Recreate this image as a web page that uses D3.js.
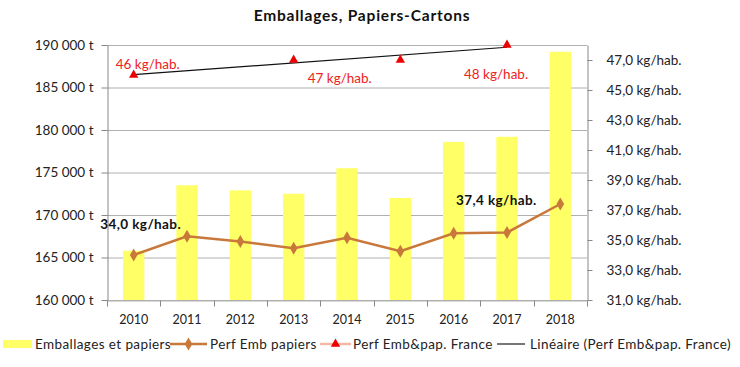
<!DOCTYPE html>
<html>
<head>
<meta charset="utf-8">
<script src="https://cdn.jsdelivr.net/npm/d3@7"></script>
<style>
  body { margin: 0; background: #fff; }
  text { font-family: Lato, "Open Sans", sans-serif; fill: #222; }
</style>
</head>
<body>
<div id="chart"></div>
<script>

var years = ["2010", "2011", "2012", "2013", "2014", "2015", "2016", "2017", "2018"];
var tonnages = [165800, 173500, 172900, 172500, 175500, 172000, 178600, 179200, 189200];
var perfEmb = [34.0, 35.25, 34.9, 34.45, 35.15, 34.25, 35.45, 35.5, 37.4];
var franceYears = ["2010", "2013", "2015", "2017"];
var perfFrance = [46, 47, 47, 48];
var leftTicks = [160000, 165000, 170000, 175000, 180000, 185000, 190000];
var rightTicks = [31, 33, 35, 37, 39, 41, 43, 45, 47];
var legendLabels = ["Emballages et papiers", "Perf Emb papiers", "Perf Emb&pap. France", "Linéaire (Perf Emb&pap. France)"];

var width = 740, height = 367;
var margin = {top: 45, left: 107, right: 153, bottom: 67};

var svg = d3.select("#chart").append("svg")
    .attr("width", width)
    .attr("height", height);

var x = d3.scaleBand()
    .domain(years)
    .range([margin.left, width - margin.right]);

var yLeft = d3.scaleLinear()
    .domain([160000, 190000])
    .range([height - margin.bottom, margin.top]);

var yRight = d3.scaleLinear()
    .domain([31, 48])
    .range([height - margin.bottom, margin.top]);

var fmtT = d3.formatLocale({decimal: ",", thousands: "\u00a0", grouping: [3], currency: ["", ""]}).format(",.0f");
var fmtKg = d3.formatLocale({decimal: ",", thousands: " ", grouping: [3], currency: ["", ""]}).format(".1f");

// gridlines
svg.append("g")
    .selectAll("line")
    .data(leftTicks)
    .enter()
    .append("line")
    .attr("x1", margin.left)
    .attr("x2", width - margin.right)
    .attr("y1", d => yLeft(d) + 0.5)
    .attr("y2", d => yLeft(d) + 0.5)
    .attr("stroke", "#b0b0b0")
    .attr("stroke-width", 1);

// bars
var barW = x.bandwidth() * 0.4;
svg.append("g")
    .selectAll("rect")
    .data(tonnages)
    .enter()
    .append("rect")
    .attr("x", (d, i) => x(years[i]) + (x.bandwidth() - barW) / 2)
    .attr("y", d => yLeft(d))
    .attr("width", barW)
    .attr("height", d => yLeft(160000) - yLeft(d))
    .attr("fill", "#ffff66");

// axes
var axisColor = "#888";
var gLeft = svg.append("g")
    .attr("transform", "translate(" + (margin.left + 0.5) + ",0)")
    .call(d3.axisLeft(yLeft).tickValues(leftTicks).tickSize(6).tickSizeOuter(0).tickPadding(8)
        .tickFormat(d => fmtT(d) + " t"));

var gRight = svg.append("g")
    .attr("transform", "translate(" + (width - margin.right + 0.5) + ",0)")
    .call(d3.axisRight(yRight).tickValues(rightTicks).tickSize(5).tickSizeOuter(0).tickPadding(14)
        .tickFormat(d => fmtKg(d) + " kg/hab."));

var gBottom = svg.append("g")
    .attr("transform", "translate(0," + (height - margin.bottom + 0.5) + ")")
    .call(d3.axisBottom(x).tickSize(0).tickPadding(15));

// category separators on the x axis
gBottom.append("g")
    .selectAll("line")
    .data(years)
    .enter()
    .append("line")
    .attr("x1", d => Math.round(x(d)) + 0.5)
    .attr("x2", d => Math.round(x(d)) + 0.5)
    .attr("y1", 0)
    .attr("y2", 6)
    .attr("stroke", axisColor);
gBottom.append("line")
    .attr("x1", width - margin.right + 0.5).attr("x2", width - margin.right + 0.5)
    .attr("y1", 0).attr("y2", 6).attr("stroke", axisColor);

[gLeft, gRight, gBottom].forEach(function (g) {
    g.select(".domain").attr("stroke", axisColor);
    g.selectAll(".tick line").attr("stroke", axisColor);
    g.selectAll("text").attr("font-size", 12.5).attr("fill", "#222")
        .style("font-family", "Lato, 'Open Sans', sans-serif");
});
gLeft.selectAll("text").attr("font-size", 13.5);
gRight.selectAll("text").attr("font-size", 13.5);
gBottom.select(".domain").attr("stroke", "#b0b0b0");

// Perf Emb papiers line
var cx = d => x(d) + x.bandwidth() / 2;
var brown = "#c8783a";

svg.append("path")
    .datum(perfEmb)
    .attr("fill", "none")
    .attr("stroke", brown)
    .attr("stroke-width", 2.5)
    .attr("d", d3.line().x((d, i) => cx(years[i])).y(d => yRight(d)));

svg.append("g")
    .selectAll("path")
    .data(perfEmb)
    .enter()
    .append("path")
    .attr("transform", (d, i) => "translate(" + cx(years[i]) + "," + yRight(d) + ")")
    .attr("d", d3.symbol(d3.symbolDiamond, 50))
    .attr("fill", brown);

// linear trend of the France series
var xi = franceYears.map(y => years.indexOf(y));
var mx = d3.mean(xi), my = d3.mean(perfFrance);
var slope = d3.sum(xi, (v, i) => (v - mx) * (perfFrance[i] - my)) / d3.sum(xi, v => (v - mx) * (v - mx));
var icpt = my - slope * mx;
var trend = [d3.min(xi), d3.max(xi)];

svg.append("line")
    .attr("x1", cx(years[trend[0]]))
    .attr("y1", yRight(icpt + slope * trend[0]))
    .attr("x2", cx(years[trend[1]]))
    .attr("y2", yRight(icpt + slope * trend[1]))
    .attr("stroke", "#111")
    .attr("stroke-width", 1.2);

svg.append("g")
    .selectAll("path")
    .data(perfFrance)
    .enter()
    .append("path")
    .attr("transform", (d, i) => "translate(" + cx(franceYears[i]) + "," + yRight(d) + ")")
    .attr("d", d3.symbol(d3.symbolTriangle, 38))
    .attr("fill", "#ee0000");

// France labels, moved by hand in the original (2015 has none)
var franceLabels = [
    {i: 0, dx: -18, dy: -6},
    {i: 1, dx: 14, dy: 23},
    {i: 3, dx: -43, dy: 34}
];
svg.append("g")
    .selectAll("text")
    .data(franceLabels)
    .enter()
    .append("text")
    .attr("x", d => cx(franceYears[d.i]) + d.dx)
    .attr("y", d => yRight(perfFrance[d.i]) + d.dy)
    .attr("font-size", 13.5)
    .style("fill", "#ee2222")
    .text(d => perfFrance[d.i] + " kg/hab.");

// black labels on first and last point
var blackLabels = [
    {i: 0, dx: 7, dy: -26},
    {i: perfEmb.length - 1, dx: -64, dy: 1}
];
svg.append("g")
    .selectAll("text")
    .data(blackLabels)
    .enter()
    .append("text")
    .attr("x", d => cx(years[d.i]) + d.dx)
    .attr("y", d => yRight(perfEmb[d.i]) + d.dy)
    .attr("text-anchor", "middle")
    .attr("font-size", 13.5)
    .attr("font-weight", "bold")
    .attr("letter-spacing", 0.4)
    .style("fill", "#111")
    .text(d => fmtKg(perfEmb[d.i]) + " kg/hab.");

// title
svg.append("text")
    .attr("x", width / 2 - 8)
    .attr("y", 21)
    .attr("text-anchor", "middle")
    .attr("font-size", 15.5)
    .attr("font-weight", "bold")
    .attr("letter-spacing", 0.8)
    .style("fill", "#111")
    .text("Emballages, Papiers-Cartons");

// legend
var legY = 344;
var leg = svg.append("g");
var legX = [3, 170, 320, 497];
var legText = [35, 210, 353, 530];

leg.append("rect").attr("x", legX[0]).attr("y", legY - 4).attr("width", 29).attr("height", 8).attr("fill", "#ffff66");
leg.append("line").attr("x1", legX[1]).attr("x2", legX[1] + 37).attr("y1", legY).attr("y2", legY)
    .attr("stroke", brown).attr("stroke-width", 2.5);
leg.append("path").attr("transform", "translate(" + (legX[1] + 18.5) + "," + legY + ")")
    .attr("d", d3.symbol(d3.symbolDiamond, 50)).attr("fill", brown);
leg.append("line").attr("x1", legX[2]).attr("x2", legX[2] + 31).attr("y1", legY).attr("y2", legY)
    .attr("stroke", "#f4b8a8").attr("stroke-width", 2.5);
leg.append("path").attr("transform", "translate(" + (legX[2] + 15.5) + "," + legY + ")")
    .attr("d", d3.symbol(d3.symbolTriangle, 38)).attr("fill", "#ee0000");
leg.append("line").attr("x1", legX[3]).attr("x2", legX[3] + 28).attr("y1", legY).attr("y2", legY)
    .attr("stroke", "#777").attr("stroke-width", 2);

leg.selectAll("text")
    .data(legendLabels)
    .enter()
    .append("text")
    .attr("x", (d, i) => legText[i])
    .attr("y", legY + 4.5)
    .attr("font-size", 13.5)
    .attr("letter-spacing", 0.4)
    .text(d => d);
</script>
</body>
</html>
